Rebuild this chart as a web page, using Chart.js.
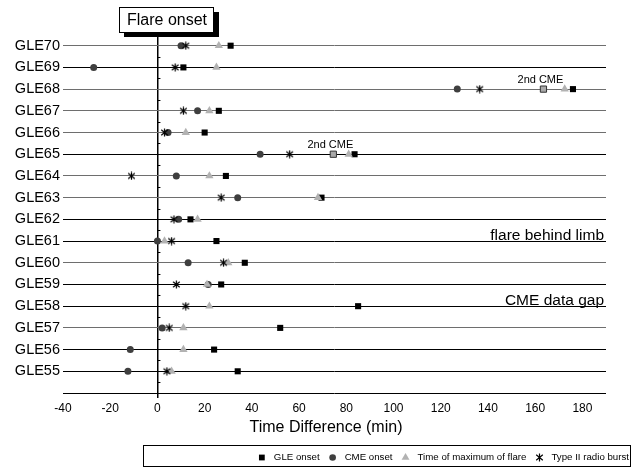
<!DOCTYPE html>
<html>
<head>
<meta charset="utf-8">
<script src="https://cdn.jsdelivr.net/npm/chart.js@4.4.1/dist/chart.umd.min.js"></script>
<style>
  html, body { margin: 0; padding: 0; background: #fff; }
</style>
</head>
<body>
<canvas id="gleChart" width="638" height="468"></canvas>
<script>
// rows, top to bottom as they appear on the chart
const events = ['GLE70', 'GLE69', 'GLE68', 'GLE67', 'GLE66', 'GLE65', 'GLE64', 'GLE63',
                'GLE62', 'GLE61', 'GLE60', 'GLE59', 'GLE58', 'GLE57', 'GLE56', 'GLE55'];

// minutes after flare onset (null = no value)
const gleOnset = [31, 11, 176, 26, 20, 83.5, 29, 69.5, 14, 25, 37, 27, 85, 52, 24, 34];
const cmeOnset = [10, -27, 127, 17, 4.5, 43.5, 8, 34, 9, 0, 13, 21.5, null, 2, -11.5, -12.5];
const flareMax = [26, 25, 172.5, 22, 12, 81, 22, 68, 17, 3, 30, 21, 22, 11, 11, 6];
const typeII   = [12, 7.5, 136.5, 11, 3, 56, -11, 27, 7, 6, 28, 8, 12, 5, null, 4];

const secondCmeEvents = ['GLE68', 'GLE65'];
const secondCmeTimes  = [163.5, 74.5];

const noteEvents = ['GLE61', 'GLE58'];
const noteTexts  = ['flare behind limb', 'CME data gap'];

const xTicksMin = -40, xTicksMax = 190, xLabelMax = 180;

const grayRows = ['GLE70', 'GLE68', 'GLE67', 'GLE66', 'GLE64', 'GLE63', 'GLE60', 'GLE57'];

Chart.defaults.font.family = "'Liberation Sans', Arial, sans-serif";
Chart.defaults.color = '#000';

const rowValue = name => events.length - events.indexOf(name);
const toPoints = vals => vals
    .map((v, i) => (v === null ? null : { x: v, y: events.length - i }))
    .filter(p => p !== null);

// excel style asterisk marker
const asteriskMark = (() => {
    const c = document.createElement('canvas');
    c.width = 9;
    c.height = 9;
    const g = c.getContext('2d');
    g.strokeStyle = '#000';
    g.lineWidth = 1.2;
    g.beginPath();
    g.moveTo(4.5, 0.5); g.lineTo(4.5, 8.5);
    g.moveTo(1.2, 1.8); g.lineTo(7.8, 7.2);
    g.moveTo(7.8, 1.8); g.lineTo(1.2, 7.2);
    g.stroke();
    return c;
})();

const datasets = [
    { label: 'GLE onset', data: toPoints(gleOnset), pointStyle: 'rect', pointRadius: 4.3,
      backgroundColor: '#000', borderColor: '#000', borderWidth: 0, order: 4 },
    { label: 'CME onset', data: toPoints(cmeOnset), pointStyle: 'circle', pointRadius: 3.5,
      backgroundColor: '#3f3f3f', borderColor: '#3f3f3f', borderWidth: 0, order: 3 },
    { label: 'Time of maximum of flare', data: toPoints(flareMax), pointStyle: 'triangle', pointRadius: 4.8,
      backgroundColor: '#b2b2b2', borderColor: '#b2b2b2', borderWidth: 0, order: 2 },
    { label: 'Type II radio burst', data: toPoints(typeII), pointStyle: asteriskMark, pointRadius: 4,
      backgroundColor: '#000', borderColor: '#000', borderWidth: 0, order: 1 },
    { label: '2nd CME', data: secondCmeEvents.map((e, i) => ({ x: secondCmeTimes[i], y: rowValue(e) })),
      pointStyle: 'rect', pointRadius: 4.4, backgroundColor: '#a8a8a8', borderColor: '#333',
      borderWidth: 1, order: 0, legendHidden: true }
];

const drawMark = (ctx, ds, x, y, r) => {
    const style = ds.pointStyle;
    ctx.save();
    ctx.fillStyle = ds.backgroundColor;
    if (style === 'rect') {
        const s = r * Math.SQRT1_2;
        ctx.fillRect(x - s, y - s, 2 * s, 2 * s);
    } else if (style === 'circle') {
        ctx.beginPath();
        ctx.arc(x, y, r, 0, Math.PI * 2);
        ctx.fill();
    } else if (style === 'triangle') {
        ctx.beginPath();
        ctx.moveTo(x, y - r);
        ctx.lineTo(x + r * 0.866, y + r / 2);
        ctx.lineTo(x - r * 0.866, y + r / 2);
        ctx.closePath();
        ctx.fill();
    } else {
        ctx.drawImage(style, x - style.width / 2, y - style.height / 2);
    }
    ctx.restore();
};

const extrasPlugin = {
    id: 'extras',
    afterDatasetsDraw(chart) {
        const { ctx, chartArea, scales } = chart;
        const x0 = scales.x.getPixelForValue(0);

        // small ticks on the flare onset line
        ctx.save();
        ctx.strokeStyle = '#000';
        ctx.lineWidth = 1;
        ctx.beginPath();
        for (let k = 0; k <= events.length; k++) {
            const ty = Math.round(scales.y.getPixelForValue(k + 0.5)) + 0.5;
            ctx.moveTo(x0, ty);
            ctx.lineTo(x0 + 3, ty);
        }
        ctx.stroke();

        // flare onset label box
        ctx.fillStyle = '#000';
        ctx.fillRect(124, 12, 95, 25);
        ctx.fillStyle = '#fff';
        ctx.fillRect(119.5, 7.5, 94, 25);
        ctx.strokeRect(119.5, 7.5, 94, 25);
        ctx.fillStyle = '#000';
        ctx.font = "16px 'Liberation Sans', Arial, sans-serif";
        ctx.textAlign = 'center';
        ctx.textBaseline = 'middle';
        ctx.fillText('Flare onset', 167, 21);

        // 2nd CME labels
        const meta = chart.getDatasetMeta(4);
        ctx.font = "11px 'Liberation Sans', Arial, sans-serif";
        ctx.textBaseline = 'alphabetic';
        meta.data.forEach(p => ctx.fillText('2nd CME', p.x - 3, p.y - 6));

        // notes on rows
        ctx.font = "15.5px 'Liberation Sans', Arial, sans-serif";
        ctx.textAlign = 'right';
        noteEvents.forEach((e, i) => {
            const ny = scales.y.getPixelForValue(rowValue(e));
            ctx.fillText(noteTexts[i], chartArea.right - 2, ny - 1);
        });

        // x axis title
        ctx.font = "16px 'Liberation Sans', Arial, sans-serif";
        ctx.textAlign = 'center';
        ctx.textBaseline = 'middle';
        ctx.fillText('Time Difference (min)', 326, 428);

        // legend
        ctx.strokeStyle = '#000';
        ctx.strokeRect(143.5, 445.5, 487, 21);
        ctx.font = "9.7px 'Liberation Sans', Arial, sans-serif";
        ctx.textAlign = 'left';
        const ly = 457.5;
        let right = 629;
        const shown = chart.data.datasets.filter(d => !d.legendHidden);
        for (let i = shown.length - 1; i >= 0; i--) {
            const ds = shown[i];
            const w = ctx.measureText(ds.label).width;
            const tx = right - w;
            ctx.fillStyle = '#000';
            ctx.fillText(ds.label, tx, ly);
            drawMark(ctx, ds, tx - 12, ly, ds.pointRadius * 0.95);
            right = tx - 25;
        }
        ctx.restore();
    }
};

new Chart(document.getElementById('gleChart'), {
    type: 'scatter',
    data: { datasets: datasets },
    options: {
        responsive: false,
        animation: false,
        events: [],
        layout: { padding: { top: 24, right: 32, bottom: 0, left: 0 } },
        plugins: { legend: { display: false }, tooltip: { enabled: false } },
        scales: {
            x: {
                type: 'linear',
                min: xTicksMin,
                max: xTicksMax,
                afterFit: s => { s.height = 75; },
                ticks: {
                    stepSize: 10,
                    autoSkip: false,
                    maxRotation: 0,
                    padding: 3,
                    font: { size: 12 },
                    callback: v => (v % 20 === 0 && v <= xLabelMax ? v : '')
                },
                grid: {
                    drawOnChartArea: true,
                    color: c => (c.tick && c.tick.value === 0 ? '#000' : 'rgba(0,0,0,0)'),
                    lineWidth: c => (c.tick && c.tick.value === 0 ? 1.5 : 0),
                    tickColor: '#000',
                    tickLength: 5
                },
                border: { display: true, color: '#000', width: 1 }
            },
            y: {
                type: 'linear',
                min: 0,
                max: events.length + 1,
                afterFit: s => { s.width = 63; },
                ticks: {
                    stepSize: 1,
                    autoSkip: false,
                    padding: 3,
                    font: { size: 14.5 },
                    callback: v => (v >= 1 && v <= events.length ? events[events.length - v] : '')
                },
                grid: {
                    drawTicks: false,
                    color: c => {
                        const v = c.tick ? c.tick.value : 0;
                        if (v < 1 || v > events.length) return 'rgba(0,0,0,0)';
                        return grayRows.includes(events[events.length - v]) ? '#6e6e6e' : '#000';
                    },
                    lineWidth: 1
                },
                border: { display: false }
            }
        }
    },
    plugins: [extrasPlugin]
});
</script>
</body>
</html>
